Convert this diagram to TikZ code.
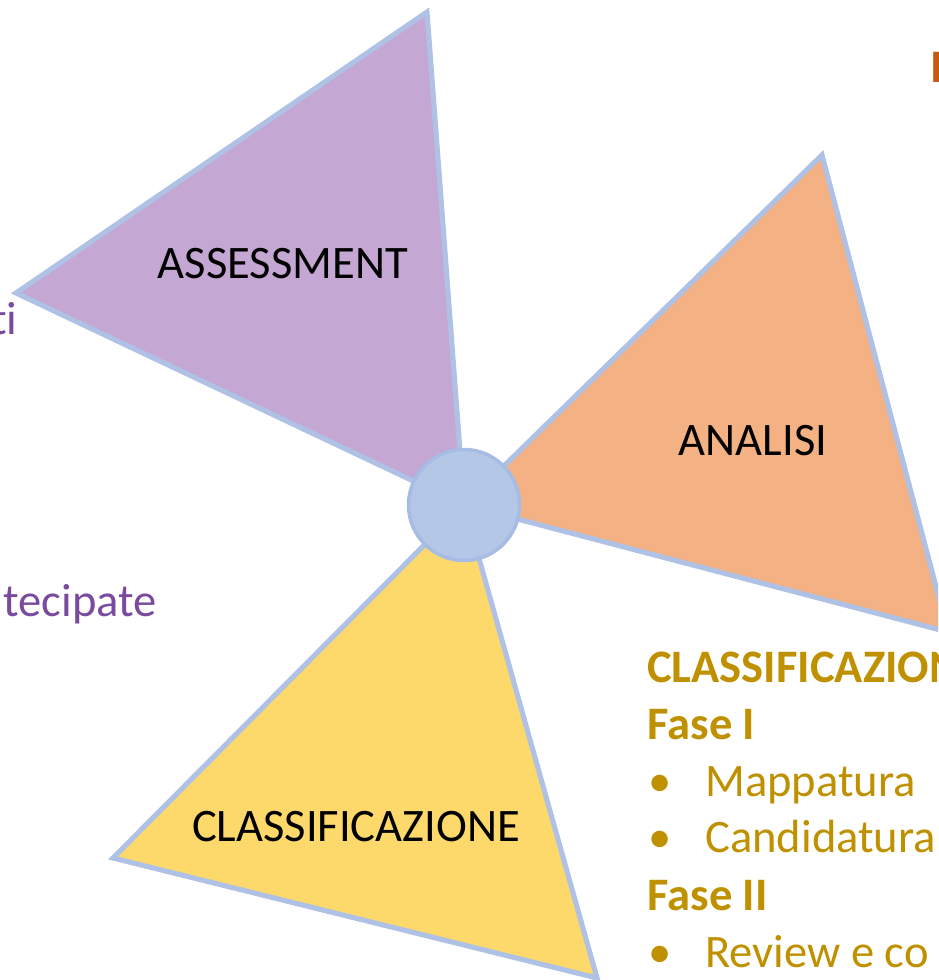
\documentclass[tikz,border=0pt]{standalone}
\usepackage{fontspec}
\setmainfont[Ligatures=NoCommon]{Carlito}
\usetikzlibrary{positioning}
\definecolor{petalline}{HTML}{AFC2E6}
\definecolor{hubfill}{HTML}{B4C7E7}
\definecolor{hubline}{HTML}{A7BCE4}
\definecolor{assessfill}{HTML}{C4A7D3}
\definecolor{analisifill}{HTML}{F4B183}
\definecolor{classfill}{HTML}{FDD86A}
\definecolor{purpletext}{HTML}{7A4A9E}
\definecolor{goldtext}{HTML}{BF9000}
\definecolor{orangetext}{HTML}{C55A11}

\begin{document}
\begin{tikzpicture}[x=0.02cm, y=-0.02cm,
    petal/.style={draw=petalline, line width=2.9pt, line join=miter},
    hub/.style={circle, draw=hubline, fill=hubfill, line width=2pt, minimum size=2.22cm, inner sep=0pt},
    bigtext/.style={font=\fontsize{26.5}{31}\selectfont, inner sep=0pt},
    label/.style={bigtext, text=black, anchor=base},
    heading/.style={bigtext, text=goldtext, font=\fontsize{26.5}{31}\selectfont\bfseries, anchor=base west},
    item/.style={bigtext, text=goldtext, anchor=base west},
    dot/.style={bigtext, text=goldtext, anchor=base}]
  \useasboundingbox (0,0) rectangle (938,980);
  \clip (0,0) rectangle (938,980);

  % centre of the fan
  \coordinate (c) at (464,505);

  % Petals
  \filldraw[petal, fill=assessfill] (c) -- (16,293) -- (427,12) -- cycle;
  \filldraw[petal, fill=analisifill] (c) -- (822,155) -- (948,632) -- cycle;
  \filldraw[petal, fill=classfill] (c) -- (113,858) -- (597,978) -- cycle;

  % Hub
  \node[hub] (hub) at (c) {};

  % Petal labels
  \node[label] (assess) at (283,278) {ASSESSMENT};
  \node[label] (analisi) at (753,455) {ANALISI};
  \node[label] (classif) at (356,841) {CLASSIFICAZIONE};

  % Text cut at the edges
  \node[bigtext, text=purpletext, anchor=base east] (ti) at (18,334) {ti};
  \node[bigtext, text=purpletext, anchor=base east] (tecip) at (157,616) {tecipate};
  \node[bigtext, text=orangetext, font=\fontsize{26.5}{31}\selectfont\bfseries, anchor=base west] (topI) at (930,83) {I};

  % Classificazione details
  \node[heading] (h1) at (647,682) {CLASSIFICAZIONE};
  \node[heading] (f1) at (647,739) {Fase I};
  \node[dot] (d1) at (660,796) {•};
  \node[item] (i1) at (705,796) {Mappatura};
  \node[dot] (d2) at (660,852) {•};
  \node[item] (i2) at (705,852) {Candidatura};
  \node[heading] (f2) at (647,910) {Fase II};
  \node[dot] (d3) at (660,967) {•};
  \node[item] (i3) at (705,967) {Review e co};
\end{tikzpicture}
\end{document}
